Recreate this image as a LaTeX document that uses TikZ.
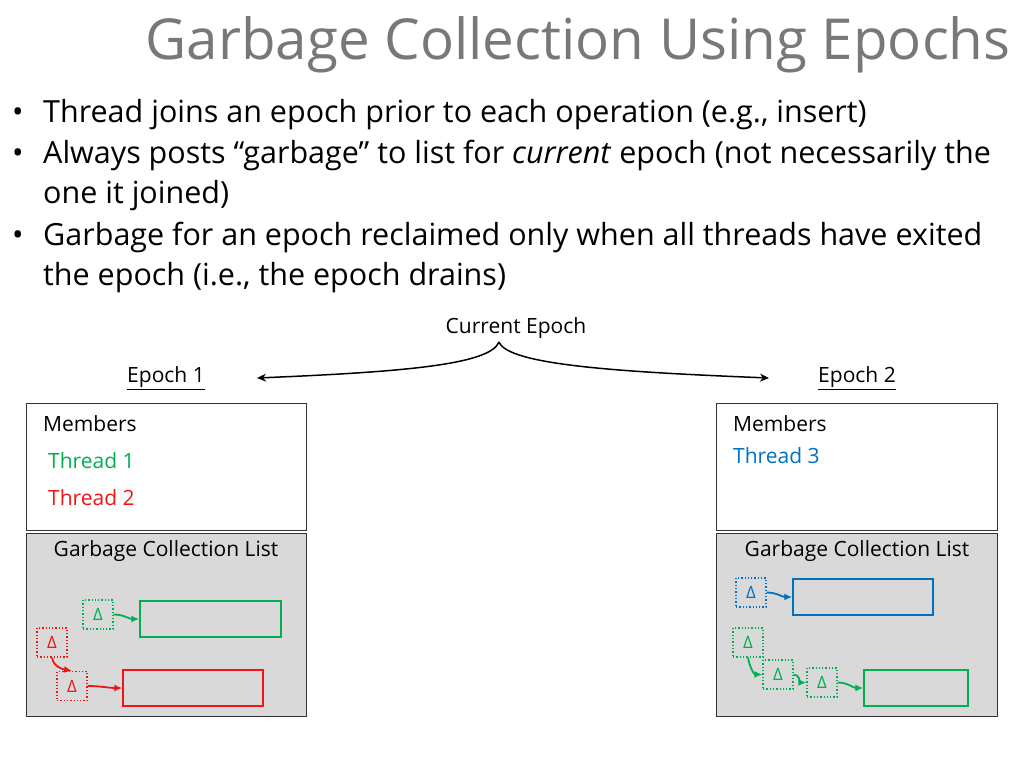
\documentclass[tikz,border=0pt]{standalone}
\usepackage{fontspec}
\setmainfont{Open Sans}
\usetikzlibrary{arrows.meta}
\definecolor{gg}{RGB}{0,176,80}
\definecolor{rr}{RGB}{240,20,20}
\definecolor{bb}{RGB}{0,112,192}
\definecolor{fillg}{RGB}{217,217,217}
\definecolor{titleg}{RGB}{120,120,120}
\tikzset{
  x=1pt,y=-1pt,
  panel/.style={draw=black!80,line width=0.9pt},
  dbox/.style={draw=#1,dotted,line width=1.3pt,minimum width=30pt,minimum height=29pt,inner sep=0pt,text=#1,font=\fontsize{17}{17}\selectfont},
  rbox/.style={draw=#1,line width=1.5pt},
  garrow/.style={draw=#1,line width=1.8pt,-{Latex[length=8pt,width=7pt]}},
  lbl/.style={anchor=west,inner sep=0pt,font=\fontsize{21}{24}\selectfont},
  bul/.style={anchor=base west,inner sep=0pt,font=\fontsize{30.5}{32}\selectfont}
}
\begin{document}
\begin{tikzpicture}
\useasboundingbox (0,0) rectangle (1024,768);
\node[anchor=center,text=titleg,font=\fontsize{56.5}{60}\selectfont] (title) at (578,45) {Garbage Collection Using Epochs};
\node[bul] (b1) at (12,122) {•};
\node[bul] (t1) at (43,122) {Thread joins an epoch prior to each operation (e.g., insert)};
\node[bul] (b2) at (12,163) {•};
\node[bul] (t2) at (43,163) {Always posts “garbage” to list for \textit{current} epoch (not necessarily the};
\node[bul] (t2b) at (43,203) {one it joined)};
\node[bul] (b3) at (12,245) {•};
\node[bul] (t3) at (43,245) {Garbage for an epoch reclaimed only when all threads have exited};
\node[bul] (t3b) at (43,285) {the epoch (i.e., the epoch drains)};

\node[font=\fontsize{21}{24}\selectfont,inner sep=0pt] (cur) at (516,328) {Current Epoch};
\coordinate (tip) at (499,342);
\node[font=\fontsize{21}{24}\selectfont,inner sep=0pt] (e1) at (166,378) {\underline{Epoch 1}};
\node[font=\fontsize{21}{24}\selectfont,inner sep=0pt] (e2) at (857,378) {\underline{Epoch 2}};
\coordinate (e1a) at (257,378);
\coordinate (e2a) at (769,378);
\draw[line width=1.5pt,-{Stealth[length=9pt,width=8pt]}] (tip) .. controls (490,365) and (400,372) .. (e1a);
\draw[line width=1.5pt,-{Stealth[length=9pt,width=8pt]}] (tip) .. controls (508,365) and (620,372) .. (e2a);

% left
\draw[panel,fill=white] (26,403) rectangle (306,530);
\draw[panel,fill=fillg] (26,533) rectangle (306,716);
\node[lbl] (m1) at (43,424) {Members};
\node[lbl,text=gg] (th1) at (48,461) {Thread 1};
\node[lbl,text=rr] (th2) at (48,498) {Thread 2};
\node[font=\fontsize{21}{24}\selectfont,inner sep=0pt] (g1) at (166,551) {Garbage Collection List};
\node[dbox=gg] (lg1) at (98,614.5) {Δ};
\node[rbox=gg,minimum width=141pt,minimum height=36pt,inner sep=0pt] (lgr) at (210.5,619) {};
\draw[garrow=gg] (lg1.east) to[out=0,in=180] (lgr.west);
\node[dbox=rr] (lr1) at (52,642.5) {Δ};
\node[dbox=rr] (lr2) at (72,686) {Δ};
\node[rbox=rr,minimum width=140pt,minimum height=36pt,inner sep=0pt] (lrr) at (193,688) {};
\draw[garrow=rr] (lr1.south) to[out=-80,in=170] (lr2.north);
\draw[garrow=rr] (lr2.east) to[out=0,in=180] (lrr.west);

% right
\draw[panel,fill=white] (716,403) rectangle (997,530);
\draw[panel,fill=fillg] (716,533) rectangle (997,716);
\node[lbl] (m2) at (733,424) {Members};
\node[lbl,text=bb] (th3) at (733,456) {Thread 3};
\node[font=\fontsize{21}{24}\selectfont,inner sep=0pt] (g2) at (857,551) {Garbage Collection List};
\node[dbox=bb] (rb1) at (751,592.5) {Δ};
\node[rbox=bb,minimum width=140pt,minimum height=36pt,inner sep=0pt] (rbr) at (863,597) {};
\draw[garrow=bb] (rb1.east) to[out=0,in=180] (rbr.west);
\node[dbox=gg] (rg1) at (748,642.5) {Δ};
\node[dbox=gg] (rg2) at (778,674.5) {Δ};
\node[dbox=gg] (rg3) at (822,682.5) {Δ};
\node[rbox=gg,minimum width=104pt,minimum height=36pt,inner sep=0pt] (rgr) at (916,688) {};
\draw[garrow=gg] (rg1.south) to[out=-80,in=180] (rg2.west);
\draw[garrow=gg] (rg2.east) to[out=0,in=180] (rg3.west);
\draw[garrow=gg] (rg3.east) to[out=0,in=180] (rgr.west);
\end{tikzpicture}
\end{document}
